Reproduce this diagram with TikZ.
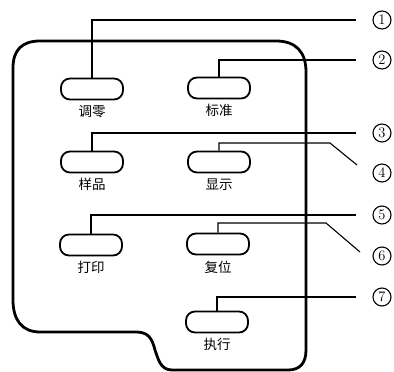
\documentclass[tikz,border=0pt]{standalone}
\usepackage{fontspec}
\newfontfamily\cjk{Noto Sans CJK SC}
\usetikzlibrary{positioning}

\begin{document}
\begin{tikzpicture}[x=1pt, y=-1pt, >=stealth,
    btn/.style={draw, line width=1.8pt, rounded corners=9pt,
                minimum width=62pt, minimum height=21pt, inner sep=0pt},
    lab/.style={font=\cjk\fontsize{13.5}{15}\selectfont, inner sep=0pt},
    num/.style={draw, circle, line width=1.1pt, minimum size=18pt, inner sep=0pt,
                font=\fontsize{14.5}{16}\selectfont},
    lead/.style={line width=1.1pt}]
  \useasboundingbox (0,0) rectangle (394,372);
  % panel outline
  \draw[line width=2.8pt]
    (13,300) -- (13,68) .. controls (13,50) and (22,41) .. (40,41)
    -- (276,41) .. controls (296,41) and (306,52) .. (306,72)
    -- (306,350) .. controls (306,363) and (300,370) .. (288,370)
    -- (172,370) .. controls (160,370) and (158,358) .. (155,350)
    .. controls (152,338) and (148,332) .. (136,332)
    -- (40,332) .. controls (22,332) and (13,320) .. (13,300) -- cycle;
  % keys and their names
  \foreach \nm/\x/\y/\lab in {zero/92/89/调零, std/219/88/标准, sample/92/162/样品,
      disp/219/162/显示, print/91/245/打印, reset/218/244/复位, exec/217/322/执行} {
    \node[btn] (\nm) at (\x,\y) {};
    \node[lab, below=5pt of \nm] (\nm-l) {\lab};
  }
  % callout numbers
  \foreach \i/\y in {1/20, 2/60, 3/133, 4/173, 5/215, 6/256, 7/297}
    \node[num] (n\i) at (382,\y) {\i};
  \coordinate (k4) at (330,143);
  \coordinate (t4) at (357,165);
  \coordinate (k6) at (326,223);
  \coordinate (t6) at (360,252);
  % leader lines
  \foreach \nm/\i in {zero/1, std/2, sample/3, print/5, exec/7}
    \draw[lead, shorten >=16pt] (\nm.north) |- (n\i.west);
  \draw[lead] (disp.north) |- (k4) -- (t4);
  \draw[lead] (reset.north) |- (k6) -- (t6);
\end{tikzpicture}
\end{document}
